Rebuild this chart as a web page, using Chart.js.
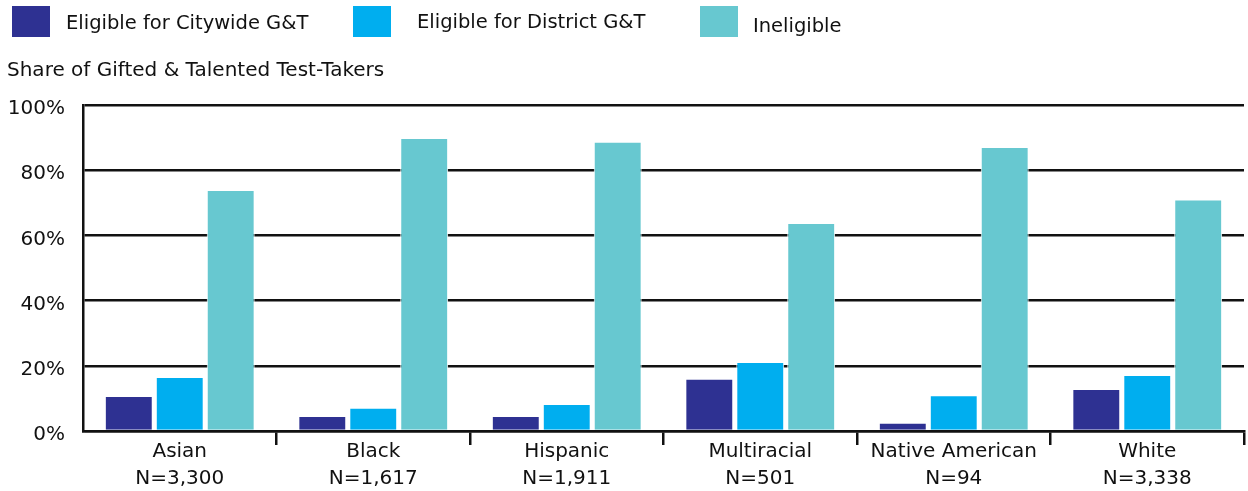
<!DOCTYPE html>
<html>
<head>
<meta charset="utf-8">
<script src="https://cdn.jsdelivr.net/npm/chart.js@4.4.1/dist/chart.umd.min.js"></script>
<style>
  html, body { margin: 0; padding: 0; background: #fff; }
  #wrap { position: relative; width: 1248px; height: 491px; font-family: "DejaVu Sans", sans-serif; }
  #chart { position: absolute; left: 0; top: 0; }
  .leg { position: absolute; top: 6px; height: 31px; font-size: 19.5px; color: #111; }
  .leg i { position: absolute; left: 0; top: 0; width: 38px; height: 31px; }
  .leg span { position: absolute; white-space: nowrap; }
</style>
</head>
<body>
<div id="wrap">
  <canvas id="chart" width="1248" height="491"></canvas>
  <div class="leg" style="left:12px"><i style="background:#2e3192"></i><span style="left:54px;top:5px">Eligible for Citywide G&amp;T</span></div>
  <div class="leg" style="left:353px"><i style="background:#00aeef"></i><span style="left:64px;top:4px">Eligible for District G&amp;T</span></div>
  <div class="leg" style="left:700px"><i style="background:#67c8d0"></i><span style="left:53px;top:8px">Ineligible</span></div>
</div>
<script>
  var groups = ['Asian', 'Black', 'Hispanic', 'Multiracial', 'Native American', 'White'];
  var counts = ['N=3,300', 'N=1,617', 'N=1,911', 'N=501', 'N=94', 'N=3,338'];
  var citywide = [10.7, 4.6, 4.6, 16.0, 2.5, 12.9];
  var district = [16.6, 7.1, 8.3, 21.2, 11.0, 17.2];
  var ineligible = [73.9, 89.9, 88.7, 63.8, 87.1, 71.0];
  var yTicks = [0, 20, 40, 60, 80, 100];

  var labels = groups.map(function (g, i) { return [g, counts[i]]; });
  var fam = '"DejaVu Sans", sans-serif';

  function bar(label, data, color) {
    return {
      label: label,
      data: data,
      backgroundColor: color,
      borderColor: '#ffffff',
      borderWidth: 1,
      categoryPercentage: 0.79,
      barPercentage: 0.94
    };
  }

  new Chart(document.getElementById('chart').getContext('2d'), {
    type: 'bar',
    data: {
      labels: labels,
      datasets: [
        bar('Eligible for Citywide G&T', citywide, '#2e3192'),
        bar('Eligible for District G&T', district, '#00aeef'),
        bar('Ineligible', ineligible, '#67c8d0')
      ]
    },
    options: {
      responsive: false,
      animation: false,
      layout: { padding: { left: 7, right: 4, top: 0, bottom: 0 } },
      plugins: {
        legend: { display: false },
        tooltip: { enabled: false },
        title: {
          display: true,
          text: 'Share of Gifted & Talented Test-Takers',
          align: 'start',
          color: '#111',
          font: { family: fam, size: 20, weight: 'normal', lineHeight: 1.2 },
          padding: { top: 59, bottom: 22 }
        }
      },
      scales: {
        x: {
          offset: true,
          grid: {
            offset: true,
            drawOnChartArea: false,
            drawTicks: true,
            tickLength: 14,
            lineWidth: 2.5,
            color: function (ctx) { return ctx.index === 0 ? 'rgba(0,0,0,0)' : '#111'; }
          },
          border: { display: true, color: '#111', width: 2.5 },
          ticks: {
            color: '#111',
            font: { family: fam, size: 20, lineHeight: 1.35 },
            padding: -7,
            maxRotation: 0,
            autoSkip: false
          },
          afterFit: function (scale) { scale.height = 60; }
        },
        y: {
          min: 0,
          max: 100,
          afterBuildTicks: function (scale) {
            scale.ticks = yTicks.map(function (v) { return { value: v }; });
          },
          grid: { color: '#111', lineWidth: 2.5, drawTicks: false },
          border: { display: true, color: '#111', width: 2.5 },
          ticks: {
            color: '#111',
            font: { family: fam, size: 20 },
            padding: 18,
            labelOffset: 4,
            callback: function (v) { return v + '%'; }
          },
          afterFit: function (scale) { scale.width = 76; }
        }
      }
    }
  });
</script>
</body>
</html>
